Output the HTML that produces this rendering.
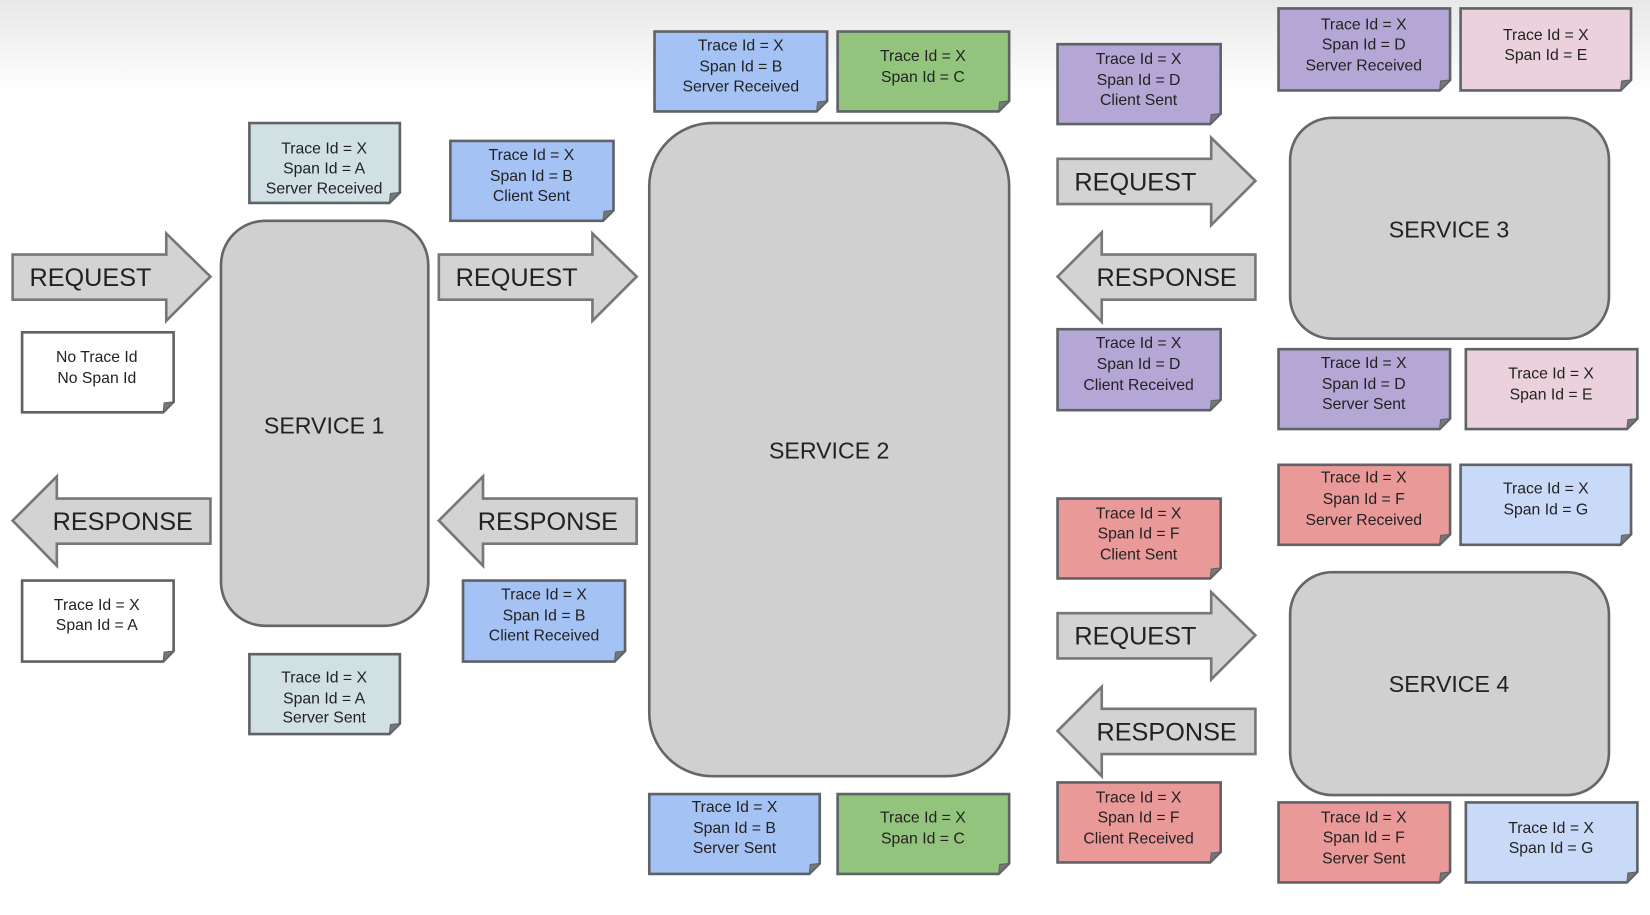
<!DOCTYPE html>
<html><head><meta charset="utf-8"><style>
html,body{margin:0;padding:0;width:1650px;height:915px;overflow:hidden;background:#fff}
svg{display:block}
text{font-family:"Liberation Sans",sans-serif;fill:#222}
.n{font-size:15px;text-anchor:middle}
.a{font-size:24px}
.s{font-size:22px;text-anchor:middle}
.note{stroke:#5f6368;stroke-width:2.5}
.fold{fill:#777;stroke:#5f6368;stroke-width:1}
.svc{fill:#d0d0d0;stroke:#666;stroke-width:2.5}
.arr{fill:#d3d3d3;stroke:#777;stroke-width:2.5}
</style></head><body>
<svg width="1650" height="915" viewBox="0 0 1568 870" preserveAspectRatio="none" xmlns="http://www.w3.org/2000/svg">
<defs><linearGradient id="bg" x1="0" y1="0" x2="0" y2="1"><stop offset="0" stop-color="#e8e8e8"/><stop offset="1" stop-color="#ffffff"/></linearGradient></defs>
<rect x="0" y="0" width="1568" height="90" fill="url(#bg)"/>

<!-- services -->
<rect class="svc" x="210" y="210" width="197" height="385" rx="42"/>
<text class="s" x="308" y="412">SERVICE 1</text>
<rect class="svc" x="617" y="117" width="342" height="621" rx="60"/>
<text class="s" x="788" y="436">SERVICE 2</text>
<rect class="svc" x="1226" y="112" width="303" height="210" rx="40"/>
<text class="s" x="1377" y="226">SERVICE 3</text>
<rect class="svc" x="1226" y="544" width="303" height="212" rx="40"/>
<text class="s" x="1377" y="658">SERVICE 4</text>

<!-- right arrows: body x..x+146, tip x+188 -->
<g id="arrows">
<path class="arr" d="M12 242 H158 V222 L200 263 L158 305 V285 H12 Z"/><text class="a" x="28" y="272">REQUEST</text>
<path class="arr" d="M417 242 H563 V222 L605 263 L563 305 V285 H417 Z"/><text class="a" x="433" y="272">REQUEST</text>
<path class="arr" d="M1005 151 H1151 V131 L1193 172 L1151 214 V194 H1005 Z"/><text class="a" x="1021" y="181">REQUEST</text>
<path class="arr" d="M1005 583 H1151 V563 L1193 604 L1151 646 V626 H1005 Z"/><text class="a" x="1021" y="613">REQUEST</text>
<path class="arr" d="M200 474 H54 V453 L12 495 L54 538 V517 H200 Z"/><text class="a" x="50" y="504">RESPONSE</text>
<path class="arr" d="M605 474 H459 V453 L417 495 L459 538 V517 H605 Z"/><text class="a" x="454" y="504">RESPONSE</text>
<path class="arr" d="M1193 242 H1047 V221 L1005 263 L1047 306 V285 H1193 Z"/><text class="a" x="1042" y="272">RESPONSE</text>
<path class="arr" d="M1193 674 H1047 V653 L1005 695 L1047 738 V717 H1193 Z"/><text class="a" x="1042" y="704">RESPONSE</text>
</g>

<!-- notes -->
<g>
<!-- A SR -->
<path class="note" fill="#d0e0e3" d="M237 117 H380 V183 L370 193 H237 Z"/><path class="fold" d="M380 183 L370 193 L371 184 Z"/>
<text class="n" x="308" y="146">Trace Id = X</text><text class="n" x="308" y="165">Span Id = A</text><text class="n" x="308" y="184">Server Received</text>
<!-- B CS -->
<path class="note" fill="#a4c2f4" d="M428 134 H583 V200 L573 210 H428 Z"/><path class="fold" d="M583 200 L573 210 L574 201 Z"/>
<text class="n" x="505" y="152">Trace Id = X</text><text class="n" x="505" y="172">Span Id = B</text><text class="n" x="505" y="191">Client Sent</text>
<!-- No trace -->
<path class="note" fill="#ffffff" d="M21 316 H165 V382 L155 392 H21 Z"/><path class="fold" d="M165 382 L155 392 L156 383 Z"/>
<text class="n" x="92" y="344">No Trace Id</text><text class="n" x="92" y="364">No Span Id</text>
<!-- X A white -->
<path class="note" fill="#ffffff" d="M21 552 H165 V619 L155 629 H21 Z"/><path class="fold" d="M165 619 L155 629 L156 620 Z"/>
<text class="n" x="92" y="580">Trace Id = X</text><text class="n" x="92" y="599">Span Id = A</text>
<!-- A SS -->
<path class="note" fill="#d0e0e3" d="M237 622 H380 V688 L370 698 H237 Z"/><path class="fold" d="M380 688 L370 698 L371 689 Z"/>
<text class="n" x="308" y="649">Trace Id = X</text><text class="n" x="308" y="669">Span Id = A</text><text class="n" x="308" y="687">Server Sent</text>
<!-- B CR -->
<path class="note" fill="#a4c2f4" d="M440 552 H594 V619 L584 629 H440 Z"/><path class="fold" d="M594 619 L584 629 L585 620 Z"/>
<text class="n" x="517" y="570">Trace Id = X</text><text class="n" x="517" y="590">Span Id = B</text><text class="n" x="517" y="609">Client Received</text>
<!-- B SR top -->
<path class="note" fill="#a4c2f4" d="M622 30 H786 V96 L776 106 H622 Z"/><path class="fold" d="M786 96 L776 106 L777 97 Z"/>
<text class="n" x="704" y="48">Trace Id = X</text><text class="n" x="704" y="68">Span Id = B</text><text class="n" x="704" y="87">Server Received</text>
<!-- C top -->
<path class="note" fill="#93c47d" d="M796 30 H959 V96 L949 106 H796 Z"/><path class="fold" d="M959 96 L949 106 L950 97 Z"/>
<text class="n" x="877" y="58">Trace Id = X</text><text class="n" x="877" y="78">Span Id = C</text>
<!-- B SS -->
<path class="note" fill="#a4c2f4" d="M617 755 H779 V821 L769 831 H617 Z"/><path class="fold" d="M779 821 L769 831 L770 822 Z"/>
<text class="n" x="698" y="772">Trace Id = X</text><text class="n" x="698" y="792">Span Id = B</text><text class="n" x="698" y="811">Server Sent</text>
<!-- C bottom -->
<path class="note" fill="#93c47d" d="M796 755 H959 V821 L949 831 H796 Z"/><path class="fold" d="M959 821 L949 831 L950 822 Z"/>
<text class="n" x="877" y="782">Trace Id = X</text><text class="n" x="877" y="802">Span Id = C</text>
<!-- D CS -->
<path class="note" fill="#b4a7d6" d="M1005 42 H1160 V108 L1150 118 H1005 Z"/><path class="fold" d="M1160 108 L1150 118 L1151 109 Z"/>
<text class="n" x="1082" y="61">Trace Id = X</text><text class="n" x="1082" y="81">Span Id = D</text><text class="n" x="1082" y="100">Client Sent</text>
<!-- D SR -->
<path class="note" fill="#b4a7d6" d="M1215 8 H1378 V76 L1368 86 H1215 Z"/><path class="fold" d="M1378 76 L1368 86 L1369 77 Z"/>
<text class="n" x="1296" y="28">Trace Id = X</text><text class="n" x="1296" y="47">Span Id = D</text><text class="n" x="1296" y="67">Server Received</text>
<!-- E top -->
<path class="note" fill="#ead1dc" d="M1388 8 H1550 V76 L1540 86 H1388 Z"/><path class="fold" d="M1550 76 L1540 86 L1541 77 Z"/>
<text class="n" x="1469" y="38">Trace Id = X</text><text class="n" x="1469" y="57">Span Id = E</text>
<!-- D CR -->
<path class="note" fill="#b4a7d6" d="M1005 313 H1160 V380 L1150 390 H1005 Z"/><path class="fold" d="M1160 380 L1150 390 L1151 381 Z"/>
<text class="n" x="1082" y="331">Trace Id = X</text><text class="n" x="1082" y="351">Span Id = D</text><text class="n" x="1082" y="371">Client Received</text>
<!-- D SS -->
<path class="note" fill="#b4a7d6" d="M1215 332 H1378 V398 L1368 408 H1215 Z"/><path class="fold" d="M1378 398 L1368 408 L1369 399 Z"/>
<text class="n" x="1296" y="350">Trace Id = X</text><text class="n" x="1296" y="370">Span Id = D</text><text class="n" x="1296" y="389">Server Sent</text>
<!-- E -->
<path class="note" fill="#ead1dc" d="M1393 332 H1556 V398 L1546 408 H1393 Z"/><path class="fold" d="M1556 398 L1546 408 L1547 399 Z"/>
<text class="n" x="1474" y="360">Trace Id = X</text><text class="n" x="1474" y="380">Span Id = E</text>
<!-- F SR -->
<path class="note" fill="#ea9999" d="M1215 442 H1378 V508 L1368 518 H1215 Z"/><path class="fold" d="M1378 508 L1368 518 L1369 509 Z"/>
<text class="n" x="1296" y="459">Trace Id = X</text><text class="n" x="1296" y="479">Span Id = F</text><text class="n" x="1296" y="499">Server Received</text>
<!-- G -->
<path class="note" fill="#c9daf8" d="M1388 442 H1550 V508 L1540 518 H1388 Z"/><path class="fold" d="M1550 508 L1540 518 L1541 509 Z"/>
<text class="n" x="1469" y="469">Trace Id = X</text><text class="n" x="1469" y="489">Span Id = G</text>
<!-- F CS -->
<path class="note" fill="#ea9999" d="M1005 474 H1160 V540 L1150 550 H1005 Z"/><path class="fold" d="M1160 540 L1150 550 L1151 541 Z"/>
<text class="n" x="1082" y="493">Trace Id = X</text><text class="n" x="1082" y="512">Span Id = F</text><text class="n" x="1082" y="532">Client Sent</text>
<!-- F CR -->
<path class="note" fill="#ea9999" d="M1005 744 H1160 V810 L1150 820 H1005 Z"/><path class="fold" d="M1160 810 L1150 820 L1151 811 Z"/>
<text class="n" x="1082" y="763">Trace Id = X</text><text class="n" x="1082" y="782">Span Id = F</text><text class="n" x="1082" y="802">Client Received</text>
<!-- F SS -->
<path class="note" fill="#ea9999" d="M1215 763 H1378 V829 L1368 839 H1215 Z"/><path class="fold" d="M1378 829 L1368 839 L1369 830 Z"/>
<text class="n" x="1296" y="782">Trace Id = X</text><text class="n" x="1296" y="801">Span Id = F</text><text class="n" x="1296" y="821">Server Sent</text>
<!-- G bottom -->
<path class="note" fill="#c9daf8" d="M1393 763 H1556 V829 L1546 839 H1393 Z"/><path class="fold" d="M1556 829 L1546 839 L1547 830 Z"/>
<text class="n" x="1474" y="792">Trace Id = X</text><text class="n" x="1474" y="811">Span Id = G</text>
</g>
</svg>
</body></html>
